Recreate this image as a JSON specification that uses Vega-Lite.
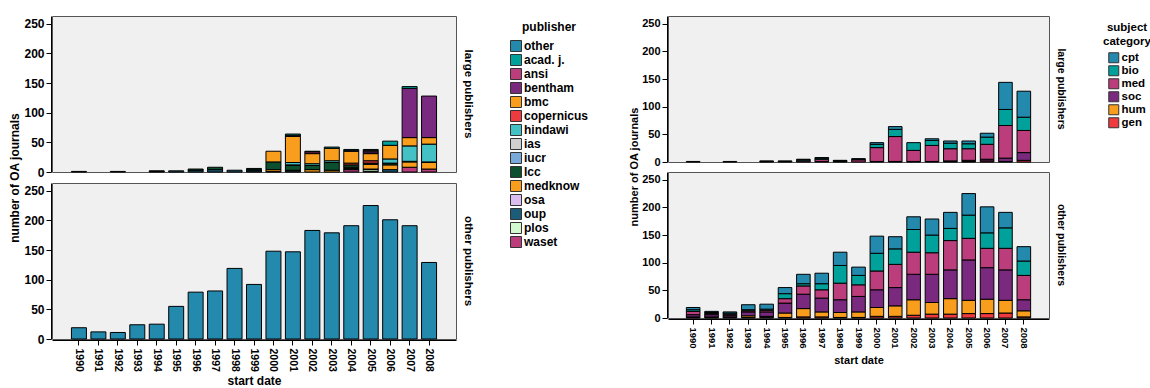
{
  "$schema": "https://vega.github.io/schema/vega-lite/v6.json",
  "padding": {"left": 8, "top": 15, "right": 0, "bottom": 0},
  "datasets": {
    "pub": [
      {"group": "large publishers", "year": "1990", "publisher": "oup", "n": 1},
      {"group": "large publishers", "year": "1992", "publisher": "oup", "n": 1},
      {"group": "large publishers", "year": "1994", "publisher": "oup", "n": 1},
      {"group": "large publishers", "year": "1994", "publisher": "lcc", "n": 1},
      {"group": "large publishers", "year": "1995", "publisher": "oup", "n": 2},
      {"group": "large publishers", "year": "1996", "publisher": "oup", "n": 3},
      {"group": "large publishers", "year": "1996", "publisher": "lcc", "n": 2},
      {"group": "large publishers", "year": "1997", "publisher": "oup", "n": 4},
      {"group": "large publishers", "year": "1997", "publisher": "lcc", "n": 4},
      {"group": "large publishers", "year": "1998", "publisher": "oup", "n": 3},
      {"group": "large publishers", "year": "1999", "publisher": "oup", "n": 2},
      {"group": "large publishers", "year": "1999", "publisher": "lcc", "n": 2},
      {"group": "large publishers", "year": "1999", "publisher": "acad. j.", "n": 2},
      {"group": "large publishers", "year": "2000", "publisher": "oup", "n": 1},
      {"group": "large publishers", "year": "2000", "publisher": "medknow", "n": 3},
      {"group": "large publishers", "year": "2000", "publisher": "lcc", "n": 13},
      {"group": "large publishers", "year": "2000", "publisher": "bmc", "n": 18},
      {"group": "large publishers", "year": "2001", "publisher": "oup", "n": 2},
      {"group": "large publishers", "year": "2001", "publisher": "medknow", "n": 1},
      {"group": "large publishers", "year": "2001", "publisher": "lcc", "n": 8},
      {"group": "large publishers", "year": "2001", "publisher": "iucr", "n": 1},
      {"group": "large publishers", "year": "2001", "publisher": "hindawi", "n": 4},
      {"group": "large publishers", "year": "2001", "publisher": "bmc", "n": 44},
      {"group": "large publishers", "year": "2001", "publisher": "bentham", "n": 2},
      {"group": "large publishers", "year": "2001", "publisher": "acad. j.", "n": 2},
      {"group": "large publishers", "year": "2002", "publisher": "medknow", "n": 4},
      {"group": "large publishers", "year": "2002", "publisher": "lcc", "n": 7},
      {"group": "large publishers", "year": "2002", "publisher": "hindawi", "n": 3},
      {"group": "large publishers", "year": "2002", "publisher": "bmc", "n": 17},
      {"group": "large publishers", "year": "2002", "publisher": "ansi", "n": 3},
      {"group": "large publishers", "year": "2002", "publisher": "acad. j.", "n": 1},
      {"group": "large publishers", "year": "2003", "publisher": "medknow", "n": 3},
      {"group": "large publishers", "year": "2003", "publisher": "lcc", "n": 13},
      {"group": "large publishers", "year": "2003", "publisher": "hindawi", "n": 3},
      {"group": "large publishers", "year": "2003", "publisher": "bmc", "n": 21},
      {"group": "large publishers", "year": "2003", "publisher": "acad. j.", "n": 2},
      {"group": "large publishers", "year": "2004", "publisher": "waset", "n": 4},
      {"group": "large publishers", "year": "2004", "publisher": "oup", "n": 2},
      {"group": "large publishers", "year": "2004", "publisher": "medknow", "n": 2},
      {"group": "large publishers", "year": "2004", "publisher": "lcc", "n": 4},
      {"group": "large publishers", "year": "2004", "publisher": "copernicus", "n": 3},
      {"group": "large publishers", "year": "2004", "publisher": "bmc", "n": 20},
      {"group": "large publishers", "year": "2004", "publisher": "bentham", "n": 1},
      {"group": "large publishers", "year": "2004", "publisher": "acad. j.", "n": 2},
      {"group": "large publishers", "year": "2005", "publisher": "waset", "n": 1},
      {"group": "large publishers", "year": "2005", "publisher": "plos", "n": 3},
      {"group": "large publishers", "year": "2005", "publisher": "oup", "n": 1},
      {"group": "large publishers", "year": "2005", "publisher": "medknow", "n": 8},
      {"group": "large publishers", "year": "2005", "publisher": "lcc", "n": 2},
      {"group": "large publishers", "year": "2005", "publisher": "copernicus", "n": 4},
      {"group": "large publishers", "year": "2005", "publisher": "bmc", "n": 12},
      {"group": "large publishers", "year": "2005", "publisher": "bentham", "n": 3},
      {"group": "large publishers", "year": "2005", "publisher": "ansi", "n": 2},
      {"group": "large publishers", "year": "2005", "publisher": "acad. j.", "n": 2},
      {"group": "large publishers", "year": "2006", "publisher": "oup", "n": 4},
      {"group": "large publishers", "year": "2006", "publisher": "medknow", "n": 8},
      {"group": "large publishers", "year": "2006", "publisher": "lcc", "n": 3},
      {"group": "large publishers", "year": "2006", "publisher": "hindawi", "n": 7},
      {"group": "large publishers", "year": "2006", "publisher": "bmc", "n": 23},
      {"group": "large publishers", "year": "2006", "publisher": "acad. j.", "n": 7},
      {"group": "large publishers", "year": "2007", "publisher": "waset", "n": 8},
      {"group": "large publishers", "year": "2007", "publisher": "medknow", "n": 9},
      {"group": "large publishers", "year": "2007", "publisher": "lcc", "n": 1},
      {"group": "large publishers", "year": "2007", "publisher": "hindawi", "n": 26},
      {"group": "large publishers", "year": "2007", "publisher": "bmc", "n": 14},
      {"group": "large publishers", "year": "2007", "publisher": "bentham", "n": 83},
      {"group": "large publishers", "year": "2007", "publisher": "acad. j.", "n": 3},
      {"group": "large publishers", "year": "2008", "publisher": "waset", "n": 5},
      {"group": "large publishers", "year": "2008", "publisher": "medknow", "n": 11},
      {"group": "large publishers", "year": "2008", "publisher": "lcc", "n": 1},
      {"group": "large publishers", "year": "2008", "publisher": "hindawi", "n": 30},
      {"group": "large publishers", "year": "2008", "publisher": "bmc", "n": 11},
      {"group": "large publishers", "year": "2008", "publisher": "bentham", "n": 70},
      {"group": "other publishers", "year": "1990", "publisher": "other", "n": 19},
      {"group": "other publishers", "year": "1991", "publisher": "other", "n": 12},
      {"group": "other publishers", "year": "1992", "publisher": "other", "n": 11},
      {"group": "other publishers", "year": "1993", "publisher": "other", "n": 24},
      {"group": "other publishers", "year": "1994", "publisher": "other", "n": 25},
      {"group": "other publishers", "year": "1995", "publisher": "other", "n": 55},
      {"group": "other publishers", "year": "1996", "publisher": "other", "n": 79},
      {"group": "other publishers", "year": "1997", "publisher": "other", "n": 81},
      {"group": "other publishers", "year": "1998", "publisher": "other", "n": 119},
      {"group": "other publishers", "year": "1999", "publisher": "other", "n": 92},
      {"group": "other publishers", "year": "2000", "publisher": "other", "n": 148},
      {"group": "other publishers", "year": "2001", "publisher": "other", "n": 147},
      {"group": "other publishers", "year": "2002", "publisher": "other", "n": 183},
      {"group": "other publishers", "year": "2003", "publisher": "other", "n": 179},
      {"group": "other publishers", "year": "2004", "publisher": "other", "n": 191},
      {"group": "other publishers", "year": "2005", "publisher": "other", "n": 225},
      {"group": "other publishers", "year": "2006", "publisher": "other", "n": 201},
      {"group": "other publishers", "year": "2007", "publisher": "other", "n": 191},
      {"group": "other publishers", "year": "2008", "publisher": "other", "n": 129}
    ],
    "subj": [
      {"group": "large publishers", "year": "1990", "subject": "cpt", "n": 1},
      {"group": "large publishers", "year": "1992", "subject": "cpt", "n": 1},
      {"group": "large publishers", "year": "1994", "subject": "bio", "n": 1},
      {"group": "large publishers", "year": "1994", "subject": "cpt", "n": 1},
      {"group": "large publishers", "year": "1995", "subject": "med", "n": 1},
      {"group": "large publishers", "year": "1995", "subject": "bio", "n": 1},
      {"group": "large publishers", "year": "1996", "subject": "med", "n": 2},
      {"group": "large publishers", "year": "1996", "subject": "bio", "n": 2},
      {"group": "large publishers", "year": "1996", "subject": "cpt", "n": 1},
      {"group": "large publishers", "year": "1997", "subject": "soc", "n": 1},
      {"group": "large publishers", "year": "1997", "subject": "med", "n": 4},
      {"group": "large publishers", "year": "1997", "subject": "bio", "n": 2},
      {"group": "large publishers", "year": "1997", "subject": "cpt", "n": 1},
      {"group": "large publishers", "year": "1998", "subject": "med", "n": 1},
      {"group": "large publishers", "year": "1998", "subject": "bio", "n": 1},
      {"group": "large publishers", "year": "1998", "subject": "cpt", "n": 1},
      {"group": "large publishers", "year": "1999", "subject": "med", "n": 4},
      {"group": "large publishers", "year": "1999", "subject": "bio", "n": 1},
      {"group": "large publishers", "year": "1999", "subject": "cpt", "n": 1},
      {"group": "large publishers", "year": "2000", "subject": "gen", "n": 1},
      {"group": "large publishers", "year": "2000", "subject": "med", "n": 25},
      {"group": "large publishers", "year": "2000", "subject": "bio", "n": 6},
      {"group": "large publishers", "year": "2000", "subject": "cpt", "n": 3},
      {"group": "large publishers", "year": "2001", "subject": "gen", "n": 1},
      {"group": "large publishers", "year": "2001", "subject": "med", "n": 45},
      {"group": "large publishers", "year": "2001", "subject": "bio", "n": 13},
      {"group": "large publishers", "year": "2001", "subject": "cpt", "n": 5},
      {"group": "large publishers", "year": "2002", "subject": "gen", "n": 1},
      {"group": "large publishers", "year": "2002", "subject": "med", "n": 20},
      {"group": "large publishers", "year": "2002", "subject": "bio", "n": 14},
      {"group": "large publishers", "year": "2003", "subject": "gen", "n": 1},
      {"group": "large publishers", "year": "2003", "subject": "med", "n": 29},
      {"group": "large publishers", "year": "2003", "subject": "bio", "n": 9},
      {"group": "large publishers", "year": "2003", "subject": "cpt", "n": 3},
      {"group": "large publishers", "year": "2004", "subject": "gen", "n": 1},
      {"group": "large publishers", "year": "2004", "subject": "soc", "n": 1},
      {"group": "large publishers", "year": "2004", "subject": "med", "n": 22},
      {"group": "large publishers", "year": "2004", "subject": "bio", "n": 10},
      {"group": "large publishers", "year": "2004", "subject": "cpt", "n": 4},
      {"group": "large publishers", "year": "2005", "subject": "gen", "n": 1},
      {"group": "large publishers", "year": "2005", "subject": "soc", "n": 2},
      {"group": "large publishers", "year": "2005", "subject": "med", "n": 21},
      {"group": "large publishers", "year": "2005", "subject": "bio", "n": 9},
      {"group": "large publishers", "year": "2005", "subject": "cpt", "n": 5},
      {"group": "large publishers", "year": "2006", "subject": "gen", "n": 2},
      {"group": "large publishers", "year": "2006", "subject": "soc", "n": 3},
      {"group": "large publishers", "year": "2006", "subject": "med", "n": 27},
      {"group": "large publishers", "year": "2006", "subject": "bio", "n": 13},
      {"group": "large publishers", "year": "2006", "subject": "cpt", "n": 7},
      {"group": "large publishers", "year": "2007", "subject": "gen", "n": 1},
      {"group": "large publishers", "year": "2007", "subject": "soc", "n": 6},
      {"group": "large publishers", "year": "2007", "subject": "med", "n": 59},
      {"group": "large publishers", "year": "2007", "subject": "bio", "n": 29},
      {"group": "large publishers", "year": "2007", "subject": "cpt", "n": 49},
      {"group": "large publishers", "year": "2008", "subject": "gen", "n": 3},
      {"group": "large publishers", "year": "2008", "subject": "soc", "n": 14},
      {"group": "large publishers", "year": "2008", "subject": "med", "n": 40},
      {"group": "large publishers", "year": "2008", "subject": "bio", "n": 24},
      {"group": "large publishers", "year": "2008", "subject": "cpt", "n": 47},
      {"group": "other publishers", "year": "1990", "subject": "gen", "n": 1},
      {"group": "other publishers", "year": "1990", "subject": "hum", "n": 1},
      {"group": "other publishers", "year": "1990", "subject": "soc", "n": 4},
      {"group": "other publishers", "year": "1990", "subject": "med", "n": 6},
      {"group": "other publishers", "year": "1990", "subject": "bio", "n": 3},
      {"group": "other publishers", "year": "1990", "subject": "cpt", "n": 4},
      {"group": "other publishers", "year": "1991", "subject": "gen", "n": 1},
      {"group": "other publishers", "year": "1991", "subject": "hum", "n": 1},
      {"group": "other publishers", "year": "1991", "subject": "soc", "n": 4},
      {"group": "other publishers", "year": "1991", "subject": "med", "n": 2},
      {"group": "other publishers", "year": "1991", "subject": "bio", "n": 2},
      {"group": "other publishers", "year": "1991", "subject": "cpt", "n": 2},
      {"group": "other publishers", "year": "1992", "subject": "gen", "n": 1},
      {"group": "other publishers", "year": "1992", "subject": "hum", "n": 1},
      {"group": "other publishers", "year": "1992", "subject": "soc", "n": 3},
      {"group": "other publishers", "year": "1992", "subject": "med", "n": 2},
      {"group": "other publishers", "year": "1992", "subject": "bio", "n": 2},
      {"group": "other publishers", "year": "1992", "subject": "cpt", "n": 2},
      {"group": "other publishers", "year": "1993", "subject": "gen", "n": 1},
      {"group": "other publishers", "year": "1993", "subject": "hum", "n": 3},
      {"group": "other publishers", "year": "1993", "subject": "soc", "n": 7},
      {"group": "other publishers", "year": "1993", "subject": "med", "n": 2},
      {"group": "other publishers", "year": "1993", "subject": "bio", "n": 2},
      {"group": "other publishers", "year": "1993", "subject": "cpt", "n": 9},
      {"group": "other publishers", "year": "1994", "subject": "gen", "n": 1},
      {"group": "other publishers", "year": "1994", "subject": "hum", "n": 2},
      {"group": "other publishers", "year": "1994", "subject": "soc", "n": 8},
      {"group": "other publishers", "year": "1994", "subject": "med", "n": 3},
      {"group": "other publishers", "year": "1994", "subject": "bio", "n": 2},
      {"group": "other publishers", "year": "1994", "subject": "cpt", "n": 9},
      {"group": "other publishers", "year": "1995", "subject": "gen", "n": 1},
      {"group": "other publishers", "year": "1995", "subject": "hum", "n": 8},
      {"group": "other publishers", "year": "1995", "subject": "soc", "n": 18},
      {"group": "other publishers", "year": "1995", "subject": "med", "n": 8},
      {"group": "other publishers", "year": "1995", "subject": "bio", "n": 9},
      {"group": "other publishers", "year": "1995", "subject": "cpt", "n": 11},
      {"group": "other publishers", "year": "1996", "subject": "gen", "n": 2},
      {"group": "other publishers", "year": "1996", "subject": "hum", "n": 15},
      {"group": "other publishers", "year": "1996", "subject": "soc", "n": 26},
      {"group": "other publishers", "year": "1996", "subject": "med", "n": 15},
      {"group": "other publishers", "year": "1996", "subject": "bio", "n": 4},
      {"group": "other publishers", "year": "1996", "subject": "cpt", "n": 17},
      {"group": "other publishers", "year": "1997", "subject": "gen", "n": 2},
      {"group": "other publishers", "year": "1997", "subject": "hum", "n": 9},
      {"group": "other publishers", "year": "1997", "subject": "soc", "n": 25},
      {"group": "other publishers", "year": "1997", "subject": "med", "n": 15},
      {"group": "other publishers", "year": "1997", "subject": "bio", "n": 11},
      {"group": "other publishers", "year": "1997", "subject": "cpt", "n": 19},
      {"group": "other publishers", "year": "1998", "subject": "gen", "n": 1},
      {"group": "other publishers", "year": "1998", "subject": "hum", "n": 9},
      {"group": "other publishers", "year": "1998", "subject": "soc", "n": 23},
      {"group": "other publishers", "year": "1998", "subject": "med", "n": 30},
      {"group": "other publishers", "year": "1998", "subject": "bio", "n": 32},
      {"group": "other publishers", "year": "1998", "subject": "cpt", "n": 24},
      {"group": "other publishers", "year": "1999", "subject": "gen", "n": 1},
      {"group": "other publishers", "year": "1999", "subject": "hum", "n": 10},
      {"group": "other publishers", "year": "1999", "subject": "soc", "n": 28},
      {"group": "other publishers", "year": "1999", "subject": "med", "n": 21},
      {"group": "other publishers", "year": "1999", "subject": "bio", "n": 17},
      {"group": "other publishers", "year": "1999", "subject": "cpt", "n": 15},
      {"group": "other publishers", "year": "2000", "subject": "gen", "n": 3},
      {"group": "other publishers", "year": "2000", "subject": "hum", "n": 16},
      {"group": "other publishers", "year": "2000", "subject": "soc", "n": 32},
      {"group": "other publishers", "year": "2000", "subject": "med", "n": 34},
      {"group": "other publishers", "year": "2000", "subject": "bio", "n": 32},
      {"group": "other publishers", "year": "2000", "subject": "cpt", "n": 31},
      {"group": "other publishers", "year": "2001", "subject": "gen", "n": 3},
      {"group": "other publishers", "year": "2001", "subject": "hum", "n": 19},
      {"group": "other publishers", "year": "2001", "subject": "soc", "n": 33},
      {"group": "other publishers", "year": "2001", "subject": "med", "n": 42},
      {"group": "other publishers", "year": "2001", "subject": "bio", "n": 28},
      {"group": "other publishers", "year": "2001", "subject": "cpt", "n": 22},
      {"group": "other publishers", "year": "2002", "subject": "gen", "n": 5},
      {"group": "other publishers", "year": "2002", "subject": "hum", "n": 28},
      {"group": "other publishers", "year": "2002", "subject": "soc", "n": 46},
      {"group": "other publishers", "year": "2002", "subject": "med", "n": 40},
      {"group": "other publishers", "year": "2002", "subject": "bio", "n": 41},
      {"group": "other publishers", "year": "2002", "subject": "cpt", "n": 23},
      {"group": "other publishers", "year": "2003", "subject": "gen", "n": 7},
      {"group": "other publishers", "year": "2003", "subject": "hum", "n": 21},
      {"group": "other publishers", "year": "2003", "subject": "soc", "n": 51},
      {"group": "other publishers", "year": "2003", "subject": "med", "n": 39},
      {"group": "other publishers", "year": "2003", "subject": "bio", "n": 32},
      {"group": "other publishers", "year": "2003", "subject": "cpt", "n": 29},
      {"group": "other publishers", "year": "2004", "subject": "gen", "n": 7},
      {"group": "other publishers", "year": "2004", "subject": "hum", "n": 28},
      {"group": "other publishers", "year": "2004", "subject": "soc", "n": 52},
      {"group": "other publishers", "year": "2004", "subject": "med", "n": 53},
      {"group": "other publishers", "year": "2004", "subject": "bio", "n": 22},
      {"group": "other publishers", "year": "2004", "subject": "cpt", "n": 29},
      {"group": "other publishers", "year": "2005", "subject": "gen", "n": 8},
      {"group": "other publishers", "year": "2005", "subject": "hum", "n": 24},
      {"group": "other publishers", "year": "2005", "subject": "soc", "n": 73},
      {"group": "other publishers", "year": "2005", "subject": "med", "n": 39},
      {"group": "other publishers", "year": "2005", "subject": "bio", "n": 42},
      {"group": "other publishers", "year": "2005", "subject": "cpt", "n": 39},
      {"group": "other publishers", "year": "2006", "subject": "gen", "n": 8},
      {"group": "other publishers", "year": "2006", "subject": "hum", "n": 26},
      {"group": "other publishers", "year": "2006", "subject": "soc", "n": 57},
      {"group": "other publishers", "year": "2006", "subject": "med", "n": 35},
      {"group": "other publishers", "year": "2006", "subject": "bio", "n": 28},
      {"group": "other publishers", "year": "2006", "subject": "cpt", "n": 47},
      {"group": "other publishers", "year": "2007", "subject": "gen", "n": 9},
      {"group": "other publishers", "year": "2007", "subject": "hum", "n": 23},
      {"group": "other publishers", "year": "2007", "subject": "soc", "n": 55},
      {"group": "other publishers", "year": "2007", "subject": "med", "n": 39},
      {"group": "other publishers", "year": "2007", "subject": "bio", "n": 37},
      {"group": "other publishers", "year": "2007", "subject": "cpt", "n": 28},
      {"group": "other publishers", "year": "2008", "subject": "gen", "n": 2},
      {"group": "other publishers", "year": "2008", "subject": "hum", "n": 11},
      {"group": "other publishers", "year": "2008", "subject": "soc", "n": 20},
      {"group": "other publishers", "year": "2008", "subject": "med", "n": 44},
      {"group": "other publishers", "year": "2008", "subject": "bio", "n": 26},
      {"group": "other publishers", "year": "2008", "subject": "cpt", "n": 26}
    ]
  },
  "hconcat": [
    {
      "data": {"name": "pub"},
      "transform": [
        {"calculate": "indexof(['waset','plos','oup','osa','medknow','lcc','iucr','ias','hindawi','copernicus','bmc','bentham','ansi','acad. j.','other'], datum.publisher)", "as": "k"}
      ],
      "facet": {
        "row": {
          "field": "group", "type": "nominal", "title": "number of OA journals",
          "header": {"titleOrient": "left", "titleFontSize": 12, "titleFontWeight": "bold", "titleColor": "#000", "titlePadding": -9, "labelOrient": "right", "labelAngle": 90, "labelFontSize": 11.5, "labelFontWeight": "bold", "labelPadding": 5, "labelColor": "#000"}
        }
      },
      "spacing": {"row": 9},
      "spec": {
        "width": 404,
        "height": 156,
        "mark": {"type": "bar", "stroke": "#000", "strokeWidth": 1},
        "encoding": {
          "x": {
            "field": "year", "type": "ordinal",
            "scale": {"paddingInner": 0.23, "paddingOuter": 1.16},
            "axis": {"title": "start date", "labelAngle": 90, "labelFontSize": 10.5, "titleFontSize": 12, "tickSize": 5, "labelPadding": 3, "titlePadding": 4}
          },
          "y": {
            "field": "n", "type": "quantitative", "aggregate": "sum", "stack": "zero",
            "scale": {"domain": [0, 263], "nice": false},
            "axis": {"title": null, "values": [0, 50, 100, 150, 200, 250], "labelFontSize": 12, "tickSize": 5, "labelPadding": 2}
          },
          "color": {
            "field": "publisher", "type": "nominal",
            "scale": {
              "domain": ["other", "acad. j.", "ansi", "bentham", "bmc", "copernicus", "hindawi", "ias", "iucr", "lcc", "medknow", "osa", "oup", "plos", "waset"],
              "range": ["#2389ad", "#00a19a", "#bb3d7c", "#7a2a7e", "#f99d1c", "#ef3b3f", "#44c1c4", "#cfcfcf", "#79a9d9", "#0b4f2e", "#f99d1c", "#dcbdf0", "#1b5c78", "#d4f9cf", "#bb3d7c"]
            },
            "legend": {"title": "publisher", "titleFontSize": 12, "labelFontSize": 12, "symbolType": "square", "symbolSize": 121, "symbolStrokeColor": "#333", "symbolStrokeWidth": 1, "rowPadding": -2, "labelOffset": 2, "titleAnchor": "middle", "offset": 30, "padding": 6, "titlePadding": 6}
          },
          "order": {"field": "k", "type": "quantitative", "sort": "ascending"}
        }
      }
    },
    {
      "data": {"name": "subj"},
      "transform": [
        {"calculate": "indexof(['gen','hum','soc','med','bio','cpt'], datum.subject)", "as": "k"}
      ],
      "facet": {
        "row": {
          "field": "group", "type": "nominal", "title": "number of OA journals",
          "header": {"titleOrient": "left", "titleFontSize": 11, "titleFontWeight": "bold", "titleColor": "#000", "titlePadding": -9, "labelOrient": "right", "labelAngle": 90, "labelFontSize": 10.5, "labelFontWeight": "bold", "labelPadding": 5, "labelColor": "#000"}
        }
      },
      "spacing": {"row": 8},
      "spec": {
        "width": 381,
        "height": 146,
        "mark": {"type": "bar", "stroke": "#000", "strokeWidth": 1},
        "encoding": {
          "x": {
            "field": "year", "type": "ordinal",
            "scale": {"paddingInner": 0.26, "paddingOuter": 1.18},
            "axis": {"title": "start date", "labelAngle": 90, "labelFontSize": 9.5, "titleFontSize": 11, "tickSize": 5, "labelPadding": 3, "titlePadding": 6}
          },
          "y": {
            "field": "n", "type": "quantitative", "aggregate": "sum", "stack": "zero",
            "scale": {"domain": [0, 264], "nice": false},
            "axis": {"title": null, "values": [0, 50, 100, 150, 200, 250], "labelFontSize": 11, "tickSize": 5, "labelPadding": 2}
          },
          "color": {
            "field": "subject", "type": "nominal",
            "scale": {
              "domain": ["cpt", "bio", "med", "soc", "hum", "gen"],
              "range": ["#2389ad", "#00a19a", "#bb3d7c", "#7a2a7e", "#f99d1c", "#ef3b3f"]
            },
            "legend": {"title": ["subject", "category"], "titleFontSize": 11.5, "labelFontSize": 11.5, "symbolType": "square", "symbolSize": 100, "symbolStrokeColor": "#333", "symbolStrokeWidth": 1, "rowPadding": -2, "labelOffset": 2, "titleAnchor": "middle", "offset": 31, "padding": 6, "titlePadding": 5}
          },
          "order": {"field": "k", "type": "quantitative", "sort": "ascending"}
        }
      }
    }
  ],
  "spacing": 33,
  "resolve": {"scale": {"color": "independent"}, "legend": {"color": "independent"}},
  "config": {
    "font": "Liberation Sans",
    "view": {"fill": "#f0f0f0", "stroke": "#555", "strokeWidth": 1},
    "axis": {"labelFontWeight": "bold", "titleFontWeight": "bold", "labelColor": "#000", "titleColor": "#000", "domainColor": "#000", "tickColor": "#000", "grid": false},
    "legend": {"titleFontWeight": "bold", "labelFontWeight": "bold", "titleColor": "#000", "labelColor": "#000"},
    "title": {"color": "#000"}
  }
}
